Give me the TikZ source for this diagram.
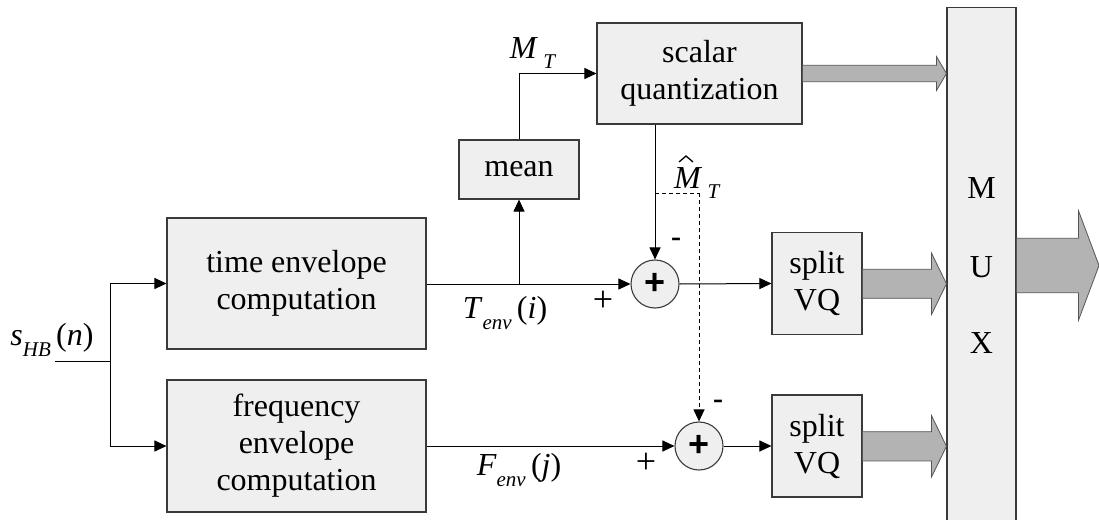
\documentclass[tikz,border=0pt]{standalone}
\usepackage{fontspec}
\setmainfont{Liberation Serif}
\newfontfamily\plusfont{Liberation Sans}
\usetikzlibrary{arrows.meta,calc}

% italic symbol with italic subscript and an argument in parentheses
\newcommand\subs[1]{\raisebox{-0.33em}{\fontsize{21}{21}\selectfont\textit{#1}}}
\newcommand\symb[3]{\textit{#1}\subs{#2}\,#3}

\definecolor{boxfill}{HTML}{EFEFEF}
\definecolor{boxline}{HTML}{3A3A3A}
\definecolor{fatfill}{HTML}{B3B3B3}
\definecolor{fatline}{HTML}{555555}

\tikzset{
  blk/.style={draw=boxline, fill=boxfill, line width=1.1pt, inner sep=0pt,
              align=center, font=\fontsize{32}{37}\selectfont},
  sumnode/.style={circle, draw=boxline, fill=boxfill, line width=1.1pt,
                  minimum size=48pt, inner sep=0pt},
  wire/.style={line width=1pt, -{Triangle[length=12pt,width=11pt]}},
  plainwire/.style={line width=1pt},
  dashwire/.style={line width=1pt, dashed, dash pattern=on 4pt off 3pt,
                   -{Triangle[length=12pt,width=11pt]}},
  fat/.style={draw=fatline, fill=fatfill, line width=0.8pt},
  lbl/.style={font=\fontsize{32}{36}\selectfont, inner sep=0pt},
  sgn/.style={font=\fontsize{36}{36}\selectfont, inner sep=0pt},
  minus/.style={font=\bfseries\fontsize{30}{30}\selectfont, inner sep=0pt},
  plus/.style={font=\plusfont\bfseries\fontsize{36}{36}\selectfont, inner sep=0pt},
  hatmark/.style={line width=1.3pt, line join=miter},
}

% wide arrow from point #1 to the x of point #2: body half height #3,
% head half height #4, head length #5
\newcommand\fatarrow[5]{%
  \path[fat] let \p1=(#1), \p2=(#2) in
    (\x1,\y1+#3) -- (\x2-#5,\y1+#3) -- (\x2-#5,\y1+#4) -- (\x2,\y1)
    -- (\x2-#5,\y1-#4) -- (\x2-#5,\y1-#3) -- (\x1,\y1-#3) -- cycle;}

\begin{document}
\begin{tikzpicture}[x=1pt,y=-1pt]
  \clip (0,0) rectangle (1099,519);
  \fill[white] (0,0) rectangle (1099,519);

  % processing blocks
  \node[blk, minimum width=259pt, minimum height=131pt] (tenv) at (296.5,283.5)
       {time envelope\\computation};
  \node[blk, minimum width=259pt, minimum height=132pt] (fenv) at (296.5,446)
       {frequency\\envelope\\computation};
  \node[blk, minimum width=120pt, minimum height=59pt] (mean) at (519,169.5) {mean};
  \node[blk, minimum width=205pt, minimum height=101pt] (sq) at (699.5,73.5)
       {scalar\\quantization};
  \node[blk, minimum width=90pt, minimum height=102pt] (vq1) at (817,283.5) {split\\VQ};
  \node[blk, minimum width=90pt, minimum height=102pt] (vq2) at (817,446) {split\\VQ};
  \node[blk, minimum width=69pt, minimum height=530pt, anchor=north] (mux) at (981.5,7)
       {};
  \node[lbl] (mM) at (981.5,188) {M};
  \node[lbl] (mU) at (981.5,267) {U};
  \node[lbl] (mX) at (981.5,343) {X};

  % subtractors
  \node[sumnode] (s1) at (655,284) {};
  \node[sumnode] (s2) at (699,446) {};
  \node[plus] (p1) at (s1) {+};
  \node[plus] (p2) at (s2) {+};

  % input and split
  \coordinate (in) at (55,361);
  \coordinate (br) at (110,361);
  \coordinate (brt) at (110,283.5);
  \coordinate (brb) at (110,446);
  \draw[plainwire] (in) -- (br) -- (brt);
  \draw[plainwire] (br) -- (brb);
  \draw[wire] (brt) -- (tenv.west);
  \draw[wire] (brb) -- (fenv.west);

  % time branch
  \coordinate (tap) at (mean.south |- s1);
  \draw[wire] (tenv.east |- s1) -- (s1.west);
  \draw[wire] (tap) -- (mean.south);
  \coordinate (mup) at (mean.north |- sq);
  \draw[plainwire] (mean.north) -- (mup);
  \draw[wire] (mup) -- (sq.west);
  \draw[wire] (sq.south -| s1) -- (s1.north);
  \coordinate (qd) at (655,193);
  \coordinate (qc) at (699,193);
  \draw[plainwire, dashed, dash pattern=on 4pt off 3pt] (qd) -- (qc);
  \draw[dashwire] (qc) -- (s2.north);
  \draw[wire] (s1.east) -- (vq1.west);

  % frequency branch
  \draw[wire] (fenv.east |- s2) -- (s2.west);
  \draw[wire] (s2.east) -- (vq2.west);

  % wide arrows into and out of the multiplexer
  \fatarrow{sq.east |- 0,73.5}{mux.west}{8.2pt}{17pt}{10pt}
  \fatarrow{vq1.east |- 0,283.8}{mux.west}{14.5pt}{30.8pt}{15pt}
  \fatarrow{vq2.east |- 0,446.3}{mux.west}{14.6pt}{30.8pt}{15pt}
  \fatarrow{mux.east |- 0,265.5}{1099,265.5}{27.2pt}{54.7pt}{20.5pt}

  % labels
  \node[lbl] (lin) at (52,340) {\symb{s}{HB}{(\textit{n})}};
  \node[lbl] (lmt) at (533,53) {\textit{M}\,\subs{T}};
  \node[lbl, anchor=base west] (lmh) at (674,188) {\textit{M}\,\subs{T}};
  \draw[hatmark] ($(lmh.base west)+(5,-26)$) -- ($(lmh.base west)+(12,-32)$)
                 -- ($(lmh.base west)+(19,-26)$);
  \node[lbl] (lte) at (505,313) {\symb{T}{env}{(\textit{i})}};
  \node[lbl] (lfe) at (519,470) {\symb{F}{env}{(\textit{j})}};
  \node[sgn] (pl1) at (603,301) {+};
  \node[sgn] (pl2) at (646,463) {+};
  \node[minus] (mi1) at (676,242) {-};
  \node[minus] (mi2) at (718,404) {-};
\end{tikzpicture}
\end{document}
